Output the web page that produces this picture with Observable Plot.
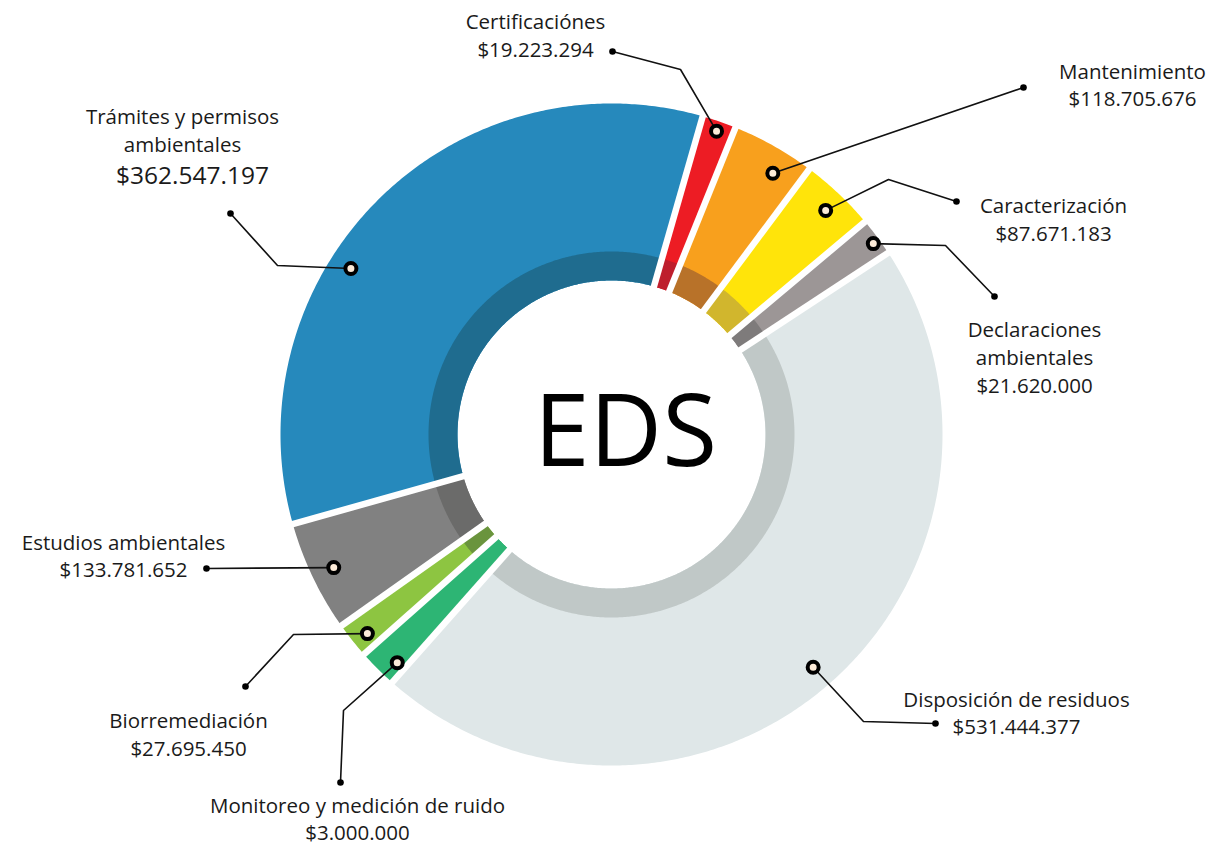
<!DOCTYPE html>
<html><head><meta charset="utf-8">
<script src="https://cdn.jsdelivr.net/npm/d3@7"></script>
<script src="https://cdn.jsdelivr.net/npm/@observablehq/plot@0.6"></script>
<style>html,body{margin:0;padding:0;background:#fff}#chart svg{display:block}</style>
</head><body><div id="chart"></div>
<script>
// ---- data (clockwise from the top) ----
const categories = ["Certificaciónes","Mantenimiento","Caracterización","Declaraciones ambientales","Disposición de residuos","Monitoreo y medición de ruido","Biorremediación","Estudios ambientales","Trámites y permisos ambientales"];
const amounts = [19223294,118705676,87671183,21620000,531444377,3000000,27695450,133781652,362547197];
// angular size of each slice as drawn in the picture (degrees)
const sliceDegrees = [6.0,14.7,13.3,6.7,164.8,6.9,6.3,19.6,121.7];
const labelLines = [["Certificaciónes"],["Mantenimiento"],["Caracterización"],["Declaraciones","ambientales"],["Disposición de residuos"],["Monitoreo y medición de ruido"],["Biorremediación"],["Estudios ambientales"],["Trámites y permisos","ambientales"]];
const centerLabel = "EDS";

// ---- styles ----
const colors = ["#ed1c24","#f8a01d","#ffe40a","#9c9696","#dfe7e8","#2db574","#8dc541","#818181","#2689bc"];
const bandColors = ["#be1e2d","#b87229","#d1b62d","#7e7b7b","#c0c8c7","#2db574","#6a943d","#6b6b6a","#1f6c8f"];

// ---- layout ----
const W = 1215, H = 847, cx = 611, cy = 434;
const rHole = 154, rBand = 183, rOuter = 331, startAngle = 16;
const layout = [
  {m:[19.1,321], elbow:[680,69], dot:[612,51], lx:535, ly:28, vy:56},
  {m:[31.7,307], elbow:null, dot:[1023,87], lx:1132, ly:78, vy:105},
  {m:[43.7,310], elbow:[888,179], dot:[956,201], lx:1053, ly:212, vy:240},
  {m:[53.9,324], elbow:[945,245], dot:[994,296], lx:1034, ly:336, vy:392},
  {m:[139.1,308], elbow:[863,721], dot:[935,723], lx:1016, ly:706, vy:733},
  {m:[223.2,313], elbow:[343,710], dot:[340,782], lx:357, ly:812, vy:839},
  {m:[230.8,315], elbow:[293,634], dot:[245,686], lx:188, ly:727, vy:755},
  {m:[244.4,308], elbow:null, dot:[206,568], lx:123, ly:549, vy:576},
  {m:[302.5,309], elbow:[277,265], dot:[230,213], lx:182, ly:123, vy:183, big:true}
];
const fmt = d3.formatLocale({decimal:",", thousands:".", grouping:[3], currency:["$",""]}).format("$,");

const polar = (deg, r) => {
  const a = deg * Math.PI / 180;
  return [cx + r * Math.sin(a), cy - r * Math.cos(a)];
};

// slice geometry
const slices = [], bands = [], gaps = [];
let acc = startAngle;
categories.forEach((name, i) => {
  const a0 = acc, a1 = acc + sliceDegrees[i];
  acc = a1;
  gaps.push({a: a0});
  const ring = (r0, r1, arr, color) => {
    const n = Math.max(4, Math.ceil((a1 - a0) / 0.5));
    for (let k = 0; k <= n; k++) { const [x,y] = polar(a0 + (a1-a0)*k/n, r1); arr.push({name, x, y, color}); }
    for (let k = n; k >= 0; k--) { const [x,y] = polar(a0 + (a1-a0)*k/n, r0); arr.push({name, x, y, color}); }
  };
  ring(rHole, rOuter, slices, colors[i]);
  ring(rHole, rBand, bands, bandColors[i]);
});
const gapLinks = gaps.map(g => {
  const [x1,y1] = polar(g.a, rHole - 3), [x2,y2] = polar(g.a, rOuter + 3);
  return {x1,y1,x2,y2};
});

// annotations
const markers = [], leaders = [], endDots = [], texts = [];
categories.forEach((name, i) => {
  const L = layout[i];
  const [mx,my] = polar(L.m[0], L.m[1]);
  markers.push({x:mx, y:my});
  leaders.push({name, x:mx, y:my});
  if (L.elbow) leaders.push({name, x:L.elbow[0], y:L.elbow[1]});
  leaders.push({name, x:L.dot[0], y:L.dot[1]});
  endDots.push({x:L.dot[0], y:L.dot[1]});
  labelLines[i].forEach((t, j) => texts.push({x:L.lx, y:L.ly + j*28.5, text:t, size:20.5}));
  texts.push({x:L.lx + (L.big ? 10 : 0), y:L.vy, text:fmt(amounts[i]), size: L.big ? 24.5 : 20.5});
});

const chart = Plot.plot({
  width: W, height: H, margin: 0,
  x: {domain:[0,W], range:[0,W], axis:null},
  y: {domain:[0,H], range:[0,H], axis:null},
  color: {type:"identity"},
  style: {fontFamily:"'Open Sans', sans-serif", background:"#fff"},
  marks: [
    Plot.line(slices, {x:"x", y:"y", z:"name", fill:"color", stroke:null, curve:"linear-closed"}),
    Plot.line(bands, {x:"x", y:"y", z:"name", fill:"color", stroke:null, curve:"linear-closed"}),
    Plot.link(gapLinks, {x1:"x1", y1:"y1", x2:"x2", y2:"y2", stroke:"#fff", strokeWidth:6.5}),
    Plot.line(leaders, {x:"x", y:"y", z:"name", stroke:"#111", strokeWidth:1.6}),
    Plot.dot(markers, {x:"x", y:"y", r:5.5, fill:"#fcebd8", stroke:"#000", strokeWidth:4}),
    Plot.dot(endDots, {x:"x", y:"y", r:3.3, fill:"#000", stroke:null}),
    Plot.text(texts, {x:"x", y:"y", text:"text", fontSize:"size", textAnchor:"middle", lineAnchor:"bottom", fill:"#1a1a1a"}),
    Plot.text([centerLabel], {x:()=>625, y:()=>465, text:d=>d, fontSize:100, textAnchor:"middle", lineAnchor:"bottom", fill:"#000"})
  ]
});
document.getElementById("chart").appendChild(chart);
</script>
</body></html>
